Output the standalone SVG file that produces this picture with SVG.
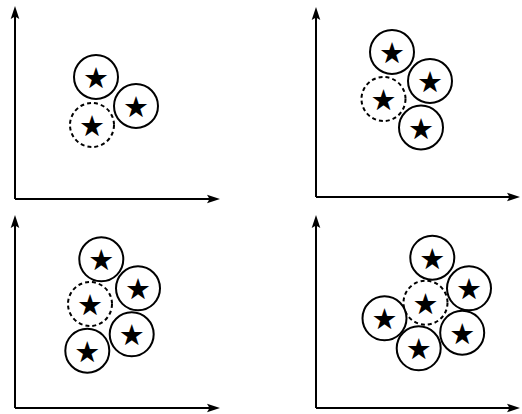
<svg xmlns="http://www.w3.org/2000/svg" width="522" height="414" viewBox="0 0 522 414">
<defs>
<style>
.ax{stroke:#000;stroke-width:2;fill:none;marker-end:url(#ah)}
.c{fill:#fff;stroke:#000;stroke-width:2}
.d{fill:none;stroke:#000;stroke-width:2;stroke-dasharray:4 3}
.s{font-family:"DejaVu Sans",sans-serif;font-size:29px;text-anchor:middle;fill:#000}
</style>
<marker id="ah" viewBox="-14 -5 15 10" markerWidth="15" markerHeight="10" refX="-10" refY="0" orient="auto" markerUnits="userSpaceOnUse">
<path d="M0,0 L-13,-4.3 L-10.5,0 L-13,4.3 Z" fill="#000"/>
</marker>
</defs>
<rect width="522" height="414" fill="#fff"/>
<g id="connectors">
<polyline class="ax" points="15,199 15,16"/>
<polyline class="ax" points="15,199 210,199"/>
<polyline class="ax" points="316,197 316,17"/>
<polyline class="ax" points="316,197 510,197"/>
<polyline class="ax" points="15,408 15,225"/>
<polyline class="ax" points="15,408 210,408"/>
<polyline class="ax" points="316,408 316,225"/>
<polyline class="ax" points="316,408 510,408"/>
</g>
<!-- panel 1 -->
<g id="p1-dashed"><circle class="d" cx="92" cy="125" r="22"/><text class="s" x="92" y="136">★</text></g>
<g id="p1-top"><circle class="c" cx="96" cy="77" r="22"/><text class="s" x="96" y="88">★</text></g>
<g id="p1-right"><circle class="c" cx="136" cy="106" r="22"/><text class="s" x="136" y="117">★</text></g>
<!-- panel 2 -->
<g id="p2-dashed"><circle class="d" cx="383.5" cy="99" r="22"/><text class="s" x="383.5" y="110">★</text></g>
<g id="p2-top"><circle class="c" cx="392" cy="52" r="22"/><text class="s" x="392" y="63">★</text></g>
<g id="p2-right"><circle class="c" cx="430" cy="81" r="22"/><text class="s" x="430" y="92">★</text></g>
<g id="p2-bottom"><circle class="c" cx="421" cy="127.5" r="22"/><text class="s" x="421" y="138.5">★</text></g>
<!-- panel 3 -->
<g id="p3-dashed"><circle class="d" cx="90" cy="304" r="22"/><text class="s" x="90" y="315">★</text></g>
<g id="p3-top"><circle class="c" cx="101.3" cy="259.3" r="22"/><text class="s" x="101.3" y="270.3">★</text></g>
<g id="p3-right"><circle class="c" cx="138" cy="288.3" r="22"/><text class="s" x="138" y="299.3">★</text></g>
<g id="p3-bottom-right"><circle class="c" cx="131.7" cy="334.3" r="22"/><text class="s" x="131.7" y="345.3">★</text></g>
<g id="p3-bottom-left"><circle class="c" cx="87.3" cy="350.7" r="22"/><text class="s" x="87.3" y="361.7">★</text></g>
<!-- panel 4 -->
<g id="p4-dashed"><circle class="d" cx="425.5" cy="302.7" r="22"/><text class="s" x="425.5" y="313.7">★</text></g>
<g id="p4-top"><circle class="c" cx="432.3" cy="257.7" r="22"/><text class="s" x="432.3" y="268.7">★</text></g>
<g id="p4-right-top"><circle class="c" cx="469" cy="288.3" r="22"/><text class="s" x="469" y="299.3">★</text></g>
<g id="p4-left"><circle class="c" cx="384.5" cy="318.3" r="22"/><text class="s" x="384.5" y="329.3">★</text></g>
<g id="p4-bottom"><circle class="c" cx="418.7" cy="348.3" r="22"/><text class="s" x="418.7" y="359.3">★</text></g>
<g id="p4-right-bottom"><circle class="c" cx="462.2" cy="332.7" r="22"/><text class="s" x="462.2" y="343.7">★</text></g>
</svg>
